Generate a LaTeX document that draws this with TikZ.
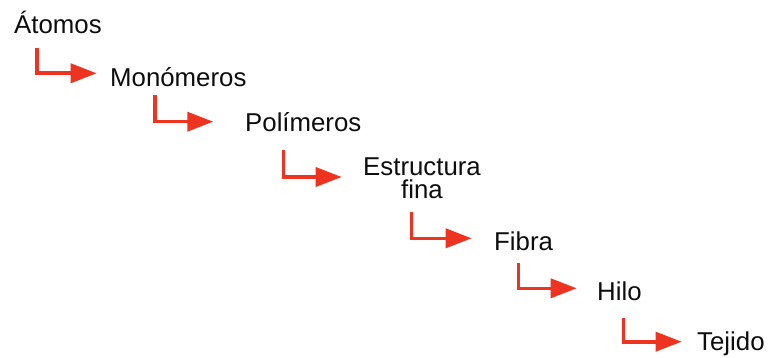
\documentclass[tikz,border=0pt]{standalone}
\usepackage{fontspec}
\setmainfont{Liberation Sans}
\usepackage{tikz}
\usetikzlibrary{positioning}
\usetikzlibrary{arrows.meta}
\definecolor{arrowred}{RGB}{238,52,32}
\tikzset{stage/.style={inner sep=0pt,font=\fontsize{25.8}{23}\selectfont,text=black!95}}
\tikzset{link/.style={draw=arrowred,line width=3.6pt,-{Triangle[length=26pt,width=19pt]}}}

\begin{document}
\begin{tikzpicture}[x=1pt,y=-1pt]
                \useasboundingbox (0,0) rectangle (770,358);
                \node[stage,anchor=base west] (atomos) at (14,33.3) {Átomos};
                \node[stage,anchor=base west] (monomeros) at (110,86.7) {Monómeros};
                \node[stage,anchor=base west] (polimeros) at (245,131.7) {Polímeros};
                \node[stage,align=center] (estructura) at (422,178.5) {Estructura\\fina};
                \node[stage,anchor=base west] (fibra) at (494,250) {Fibra};
                \node[stage,anchor=base west] (hilo) at (597,300) {Hilo};
                \node[stage,anchor=base west] (tejido) at (697,350) {Tejido};
                    \path[link] ([xshift=22.7pt,yshift=-15pt]atomos.base west) |- ([xshift=-13.3pt,yshift=13.4pt]monomeros.base west);
                    \path[link] ([xshift=45pt,yshift=-8.3pt]monomeros.base west) |- ([xshift=-31.7pt,yshift=10pt]polimeros.base west);
                    \path[link] ([xshift=38.3pt,yshift=-18.3pt]polimeros.base west) |- ([xshift=-21.3pt,yshift=1.5pt]estructura.west);
                    \path[link] ([xshift=-10.5pt,yshift=-12.7pt]estructura.south) |- ([xshift=-22.3pt,yshift=11.7pt]fibra.base west);
                    \path[link] ([xshift=24.3pt,yshift=-13.3pt]fibra.base west) |- ([xshift=-20.3pt,yshift=11.7pt]hilo.base west);
                    \path[link] ([xshift=26.3pt,yshift=-18.3pt]hilo.base west) |- ([xshift=-15.3pt,yshift=8.3pt]tejido.base west);
            \end{tikzpicture}
\end{document}
